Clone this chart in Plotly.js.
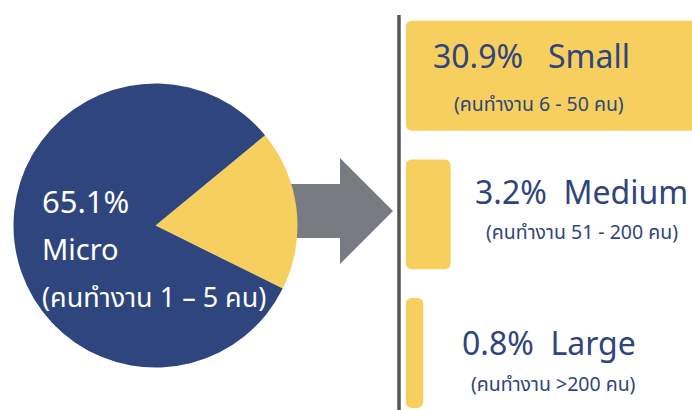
<!DOCTYPE html>
<html>
<head>
<meta charset="utf-8">
<script src="https://cdn.plot.ly/plotly-3.0.1.min.js"></script>
<style>html,body{margin:0;padding:0;background:#fff;}#chart{width:692px;height:410px;}</style>
</head>
<body>
<div id="chart"></div>
<script>
// Pie: slice sizes as drawn in the picture (yellow wedge vs navy)
const pieLabels = ["Small / Medium / Large", "Micro"];
const pieValues = [18.3, 81.7];
// Bars
const barCats = ["Small", "Medium", "Large"];
const barValues = [30.9, 3.2, 0.8];
// Text labels
const microPct = "65.1%";
const microName = "Micro";
const microSub = "(คนทำงาน 1 – 5 คน)";
const barTitles = ["30.9%   Small", "3.2%  Medium", "0.8%  Large"];
const barSubs = ["(คนทำงาน 6 - 50 คน)", "(คนทำงาน 51 - 200 คน)", "(คนทำงาน >200 คน)"];

const W = 692, H = 410;
const NAVY = "#2E457D", YELLOW = "#F6CF5F", GRAY = "#787C82";
const px = x => x / W;
const py = y => 1 - y / H;
const FONT = "'Noto Sans', 'Noto Sans Thai', sans-serif";
const SUBFONT = "'Noto Sans', 'Noto Sans Thai', sans-serif";

// pie circle geometry (pixels)
const cx = 155.5, cy = 225.5, r = 142;

const pie = {
  type: "pie",
  labels: pieLabels,
  values: pieValues,
  sort: false,
  direction: "clockwise",
  rotation: 50.5,
  marker: {colors: [YELLOW, NAVY], line: {width: 0}},
  textinfo: "none",
  hoverinfo: "none",
  showlegend: false,
  domain: {x: [px(cx - r), px(cx + r)], y: [py(cy + r), py(cy - r)]}
};

const bars = {
  type: "bar",
  orientation: "h",
  y: barCats,
  x: barValues.map(v => v + 0.74),
  base: -0.74,
  width: 0.793,
  marker: {color: YELLOW, cornerradius: 6, line: {width: 0}},
  hoverinfo: "none",
  showlegend: false,
  xaxis: "x",
  yaxis: "y"
};

const ann = [];
ann.push({x: px(40), y: py(201), text: microPct, font: {family: FONT, size: 31, color: "#fff"}});
ann.push({x: px(40), y: py(248), text: microName, font: {family: FONT, size: 29, color: "#fff"}});
ann.push({x: px(40), y: py(296), text: microSub, font: {family: FONT, size: 27, color: "#fff"}});
const titleX = [431, 473, 460], titleY = [55, 191, 342];
const subX = [452, 484, 469], subY = [103, 232, 383];
for (let i = 0; i < 3; i++) {
  ann.push({x: px(titleX[i]), y: py(titleY[i]), text: barTitles[i], font: {family: FONT, size: 32, color: NAVY}});
  ann.push({x: px(subX[i]), y: py(subY[i]), text: barSubs[i], font: {family: SUBFONT, size: 19.5, color: NAVY}});
}
ann.forEach(a => { a.xref = "paper"; a.yref = "paper"; a.xanchor = "left"; a.yanchor = "middle"; a.showarrow = false; });

const arrowPath = [
  [250, 184], [340, 184], [340, 158], [393, 211], [340, 264], [340, 238], [250, 238]
].map((p, i) => (i ? "L" : "M") + px(p[0]) + "," + py(p[1])).join(" ") + " Z";

const layout = {
  width: W, height: H,
  margin: {l: 0, r: 0, t: 0, b: 0, pad: 0},
  paper_bgcolor: "#fff", plot_bgcolor: "rgba(0,0,0,0)",
  xaxis: {domain: [px(405.7), 1], range: [-0.74, 24.33], visible: false, fixedrange: true},
  yaxis: {type: "category", range: [2.411, -0.546], visible: false, fixedrange: true},
  shapes: [
    {type: "path", xref: "paper", yref: "paper", path: arrowPath, fillcolor: GRAY, line: {width: 0}, layer: "below"},
    {type: "line", xref: "paper", yref: "paper", x0: px(399), x1: px(399), y0: py(15), y1: 0, line: {color: "#555555", width: 3.5}}
  ],
  annotations: ann,
  showlegend: false
};

Plotly.newPlot("chart", [pie, bars], layout, {displayModeBar: false, staticPlot: true});
</script>
</body>
</html>
